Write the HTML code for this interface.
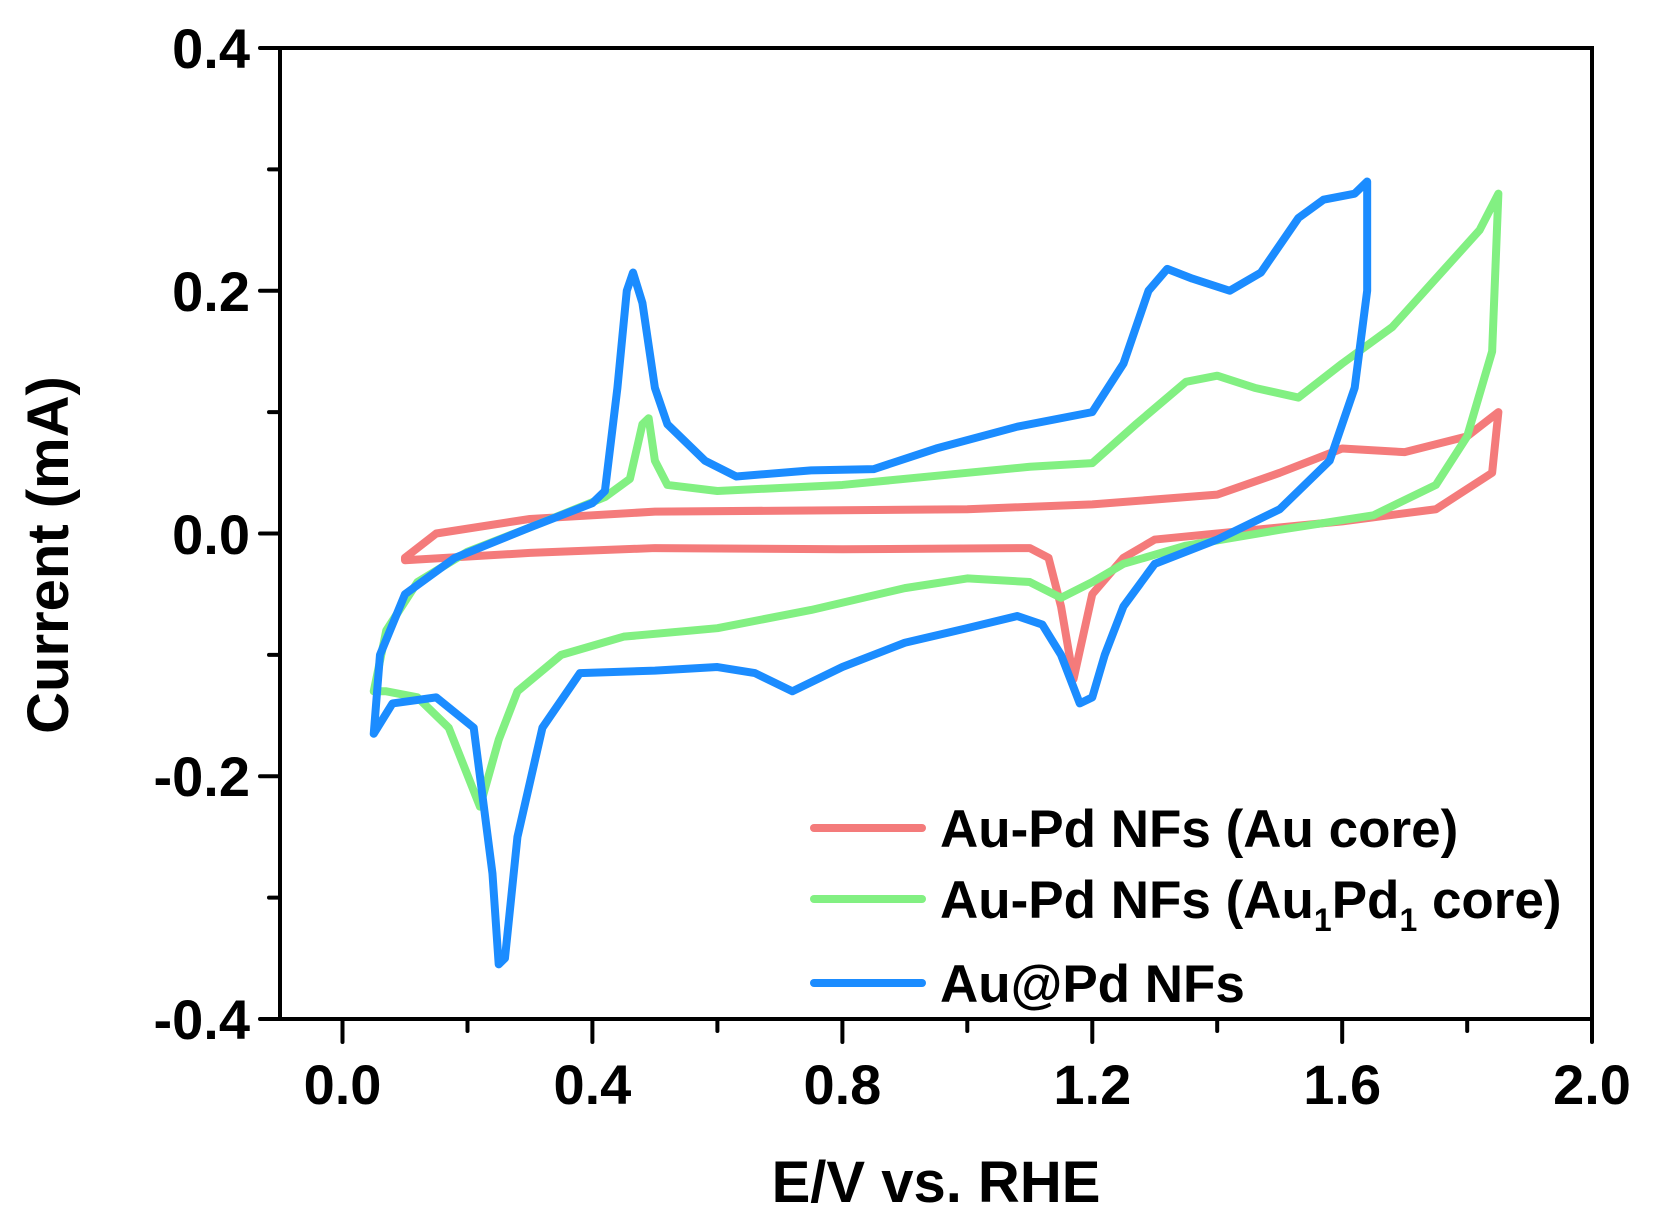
<!DOCTYPE html>
<html><head><meta charset="utf-8"><style>
html,body{margin:0;padding:0;background:#fff;}
svg{display:block;font-family:"Liberation Sans",Arial,sans-serif;font-weight:bold;}
</style></head><body>
<svg width="1660" height="1223" viewBox="0 0 1660 1223" xmlns="http://www.w3.org/2000/svg">
<g fill="none" stroke-linejoin="round" stroke-linecap="round" transform="matrix(624.8,0,0,-1213.75,342.5,533.5)">
<path vector-effect="non-scaling-stroke" stroke="#f47b7b" stroke-width="8" d="M0.1,-0.02 L0.15,0 L0.3,0.012 L0.5,0.018 L1.0,0.02 L1.2,0.024 L1.4,0.032 L1.5,0.05 L1.6,0.07 L1.7,0.067 L1.8,0.08 L1.85,0.1 L1.84,0.05 L1.75,0.02 L1.6,0.01 L1.4,0 L1.3,-0.005 L1.25,-0.02 L1.2,-0.05 L1.17,-0.12 L1.15,-0.06 L1.13,-0.02 L1.1,-0.012 L0.8,-0.013 L0.5,-0.012 L0.3,-0.016 L0.1,-0.022 Z"/>
<path vector-effect="non-scaling-stroke" stroke="#82f082" stroke-width="8" d="M0.05,-0.13 L0.07,-0.08 L0.12,-0.04 L0.2,-0.015 L0.3,0.005 L0.42,0.03 L0.46,0.045 L0.48,0.09 L0.49,0.095 L0.5,0.06 L0.52,0.04 L0.6,0.035 L0.8,0.04 L1.0,0.05 L1.1,0.055 L1.2,0.058 L1.27,0.09 L1.35,0.125 L1.4,0.13 L1.46,0.12 L1.53,0.112 L1.6,0.14 L1.68,0.17 L1.75,0.21 L1.82,0.25 L1.85,0.28 L1.84,0.15 L1.8,0.08 L1.75,0.04 L1.65,0.015 L1.5,0.003 L1.35,-0.01 L1.25,-0.025 L1.2,-0.04 L1.15,-0.053 L1.1,-0.04 L1.0,-0.037 L0.9,-0.045 L0.75,-0.063 L0.6,-0.078 L0.45,-0.085 L0.35,-0.1 L0.28,-0.13 L0.25,-0.17 L0.22,-0.225 L0.17,-0.16 L0.12,-0.135 L0.07,-0.13 Z"/>
<path vector-effect="non-scaling-stroke" stroke="#1b8cff" stroke-width="8" d="M0.05,-0.165 L0.06,-0.1 L0.1,-0.05 L0.18,-0.02 L0.3,0.005 L0.4,0.025 L0.42,0.035 L0.44,0.12 L0.455,0.2 L0.465,0.215 L0.48,0.19 L0.5,0.12 L0.52,0.09 L0.58,0.06 L0.63,0.047 L0.75,0.052 L0.85,0.053 L0.95,0.07 L1.08,0.088 L1.2,0.1 L1.25,0.14 L1.29,0.2 L1.32,0.218 L1.36,0.21 L1.42,0.2 L1.47,0.215 L1.53,0.26 L1.57,0.275 L1.62,0.28 L1.64,0.29 L1.64,0.2 L1.62,0.12 L1.58,0.06 L1.5,0.02 L1.4,-0.005 L1.3,-0.025 L1.25,-0.06 L1.22,-0.1 L1.2,-0.135 L1.18,-0.14 L1.15,-0.1 L1.12,-0.075 L1.08,-0.068 L1.0,-0.078 L0.9,-0.09 L0.8,-0.11 L0.72,-0.13 L0.66,-0.115 L0.6,-0.11 L0.5,-0.113 L0.38,-0.115 L0.32,-0.16 L0.28,-0.25 L0.26,-0.35 L0.25,-0.355 L0.24,-0.28 L0.21,-0.16 L0.15,-0.135 L0.08,-0.14 Z"/>
</g>
<g stroke="#000" stroke-width="4" fill="none" stroke-linecap="round">
<rect x="280" y="48" width="1312" height="971"/>
<path d="M342.5,1019v23 M592.4,1019v23 M842.4,1019v23 M1092.3,1019v23 M1342.2,1019v23 M1592,1019v23
M467.5,1019v12 M717.4,1019v12 M967.3,1019v12 M1217.2,1019v12 M1467.2,1019v12
M280,48h-20 M280,290.8h-20 M280,533.5h-20 M280,776.3h-20 M280,1019h-20
M280,169.4h-11 M280,412.1h-11 M280,654.9h-11 M280,897.6h-11"/>
</g>
<g font-size="56" text-anchor="end">
<text x="250" y="68">0.4</text>
<text x="250" y="311">0.2</text>
<text x="250" y="554">0.0</text>
<text x="250" y="796">-0.2</text>
<text x="250" y="1039">-0.4</text>
</g>
<g font-size="56" text-anchor="middle">
<text x="342.5" y="1104">0.0</text>
<text x="592.4" y="1104">0.4</text>
<text x="842.4" y="1104">0.8</text>
<text x="1092.3" y="1104">1.2</text>
<text x="1342.2" y="1104">1.6</text>
<text x="1592" y="1104">2.0</text>
</g>
<text x="936" y="1202" font-size="58" text-anchor="middle">E/V vs. RHE</text>
<text transform="translate(68,555) rotate(-90)" font-size="58" text-anchor="middle">Current (mA)</text>
<g stroke-width="8" stroke-linecap="round">
<line x1="814" y1="828" x2="922" y2="828" stroke="#f47b7b"/>
<line x1="814" y1="899" x2="922" y2="899" stroke="#82f082"/>
<line x1="814" y1="983" x2="922" y2="983" stroke="#1b8cff"/>
</g>
<g font-size="53">
<text x="940" y="847">Au-Pd NFs (Au core)</text>
<text x="940" y="918">Au-Pd NFs (Au<tspan font-size="32" dy="13">1</tspan><tspan dy="-13">Pd</tspan><tspan font-size="32" dy="13">1</tspan><tspan dy="-13"> core)</tspan></text>
<text x="940" y="1002">Au@Pd NFs</text>
</g>
</svg>
</body></html>
